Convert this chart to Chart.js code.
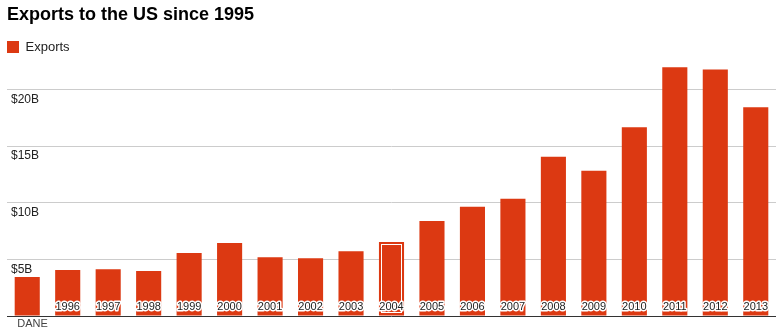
<!DOCTYPE html>
<html>
<head>
<meta charset="utf-8">
<script src="https://cdn.jsdelivr.net/npm/chart.js@4"></script>
<style>
  html, body { margin: 0; padding: 0; background: #fff; }
  #wrap { width: 779px; height: 335px; position: relative; }
</style>
</head>
<body>
<div id="wrap"><canvas id="exports"></canvas></div>
<script>
// data (billions of US$)
const years = ['1995', '1996', '1997', '1998', '1999', '2000', '2001', '2002', '2003', '2004',
    '2005', '2006', '2007', '2008', '2009', '2010', '2011', '2012', '2013'];
const exportValues = [3.44, 4.06, 4.14, 3.97, 5.56, 6.44, 5.2, 5.11, 5.73, 6.53,
    8.4, 9.65, 10.35, 14.07, 12.83, 16.67, 21.96, 21.78, 18.43];
const yTicks = [0, 5, 10, 15, 20];
const sourceLabel = 'DANE';
const highlighted = 9; // 2004 bar shows the hover outline

const RED = '#dc3912';
const FONT = 'Arial, "Liberation Sans", sans-serif';

Chart.defaults.font.family = FONT;
Chart.defaults.color = '#222';

// year labels sit inside the bars, dark text with a white halo
const barLabels = {
    id: 'barLabels',
    afterDatasetsDraw(chart) {
        const ctx = chart.ctx;
        const xScale = chart.scales.x;
        const bottom = chart.chartArea.bottom;
        const meta = chart.getDatasetMeta(0);

        // hover outline on one bar
        const bar = meta.data[highlighted];
        if (bar) {
            const p = bar.getProps(['x', 'y', 'width', 'base'], true);
            ctx.save();
            ctx.strokeStyle = '#fff';
            ctx.lineWidth = 1;
            ctx.strokeRect(Math.round(p.x - p.width / 2) + 2.5, Math.round(p.y) + 2.5,
                Math.round(p.width) - 5, Math.round(p.base - p.y) - 5);
            ctx.restore();
        }

        ctx.save();
        ctx.font = '11px ' + FONT;
        ctx.textAlign = 'center';
        ctx.textBaseline = 'middle';
        ctx.lineJoin = 'round';
        years.forEach((label, i) => {
            if (i === 0) return; // first year label is not shown
            const x = xScale.getPixelForValue(i);
            const y = bottom - 9;
            ctx.strokeStyle = '#fff';
            ctx.lineWidth = 3;
            ctx.strokeText(label, x, y);
            ctx.fillStyle = '#222';
            ctx.fillText(label, x, y);
        });

        ctx.fillStyle = '#444';
        ctx.font = '11px ' + FONT;
        ctx.textAlign = 'left';
        ctx.textBaseline = 'middle';
        ctx.fillText(sourceLabel, xScale.getPixelForValue(0) - 10, bottom + 8);
        ctx.restore();
    }
};

new Chart(document.getElementById('exports'), {
    type: 'bar',
    data: {
        labels: years,
        datasets: [{
            label: 'Exports',
            data: exportValues,
            backgroundColor: RED,
            borderWidth: 0,
            categoryPercentage: 1,
            barPercentage: 0.62,
        }],
    },
    options: {
        responsive: true,
        maintainAspectRatio: false,
        animation: false,
        layout: {
            padding: { left: 7, right: 3, top: 0, bottom: 19 },
        },
        plugins: {
            title: {
                display: true,
                text: 'Exports to the US since 1995',
                align: 'start',
                color: '#000',
                font: { size: 18, weight: 'bold', family: FONT },
                padding: { top: 4, bottom: 15 },
            },
            legend: {
                display: true,
                align: 'start',
                maxHeight: 15,
                labels: {
                    boxWidth: 12,
                    boxHeight: 12,
                    padding: 0,
                    color: '#222',
                    font: { size: 13, family: FONT },
                },
            },
            tooltip: { enabled: false },
        },
        scales: {
            x: {
                ticks: { display: false },
                grid: { display: false, drawTicks: false },
                border: { display: false },
            },
            y: {
                min: 0,
                max: 23,
                afterBuildTicks(axis) {
                    axis.ticks = yTicks.map(v => ({ value: v }));
                },
                afterFit(axis) {
                    axis.width = 0;
                },
                ticks: {
                    mirror: true,
                    padding: 4,
                    labelOffset: 10,
                    color: '#222',
                    font: { size: 12, family: FONT },
                    callback: v => (v === 0 ? '' : '$' + v + 'B'),
                },
                grid: {
                    drawTicks: false,
                    color: c => (c.tick && c.tick.value === 0 ? '#333' : '#ccc'),
                },
                border: { display: false },
            },
        },
    },
    plugins: [barLabels],
});
</script>
</body>
</html>
